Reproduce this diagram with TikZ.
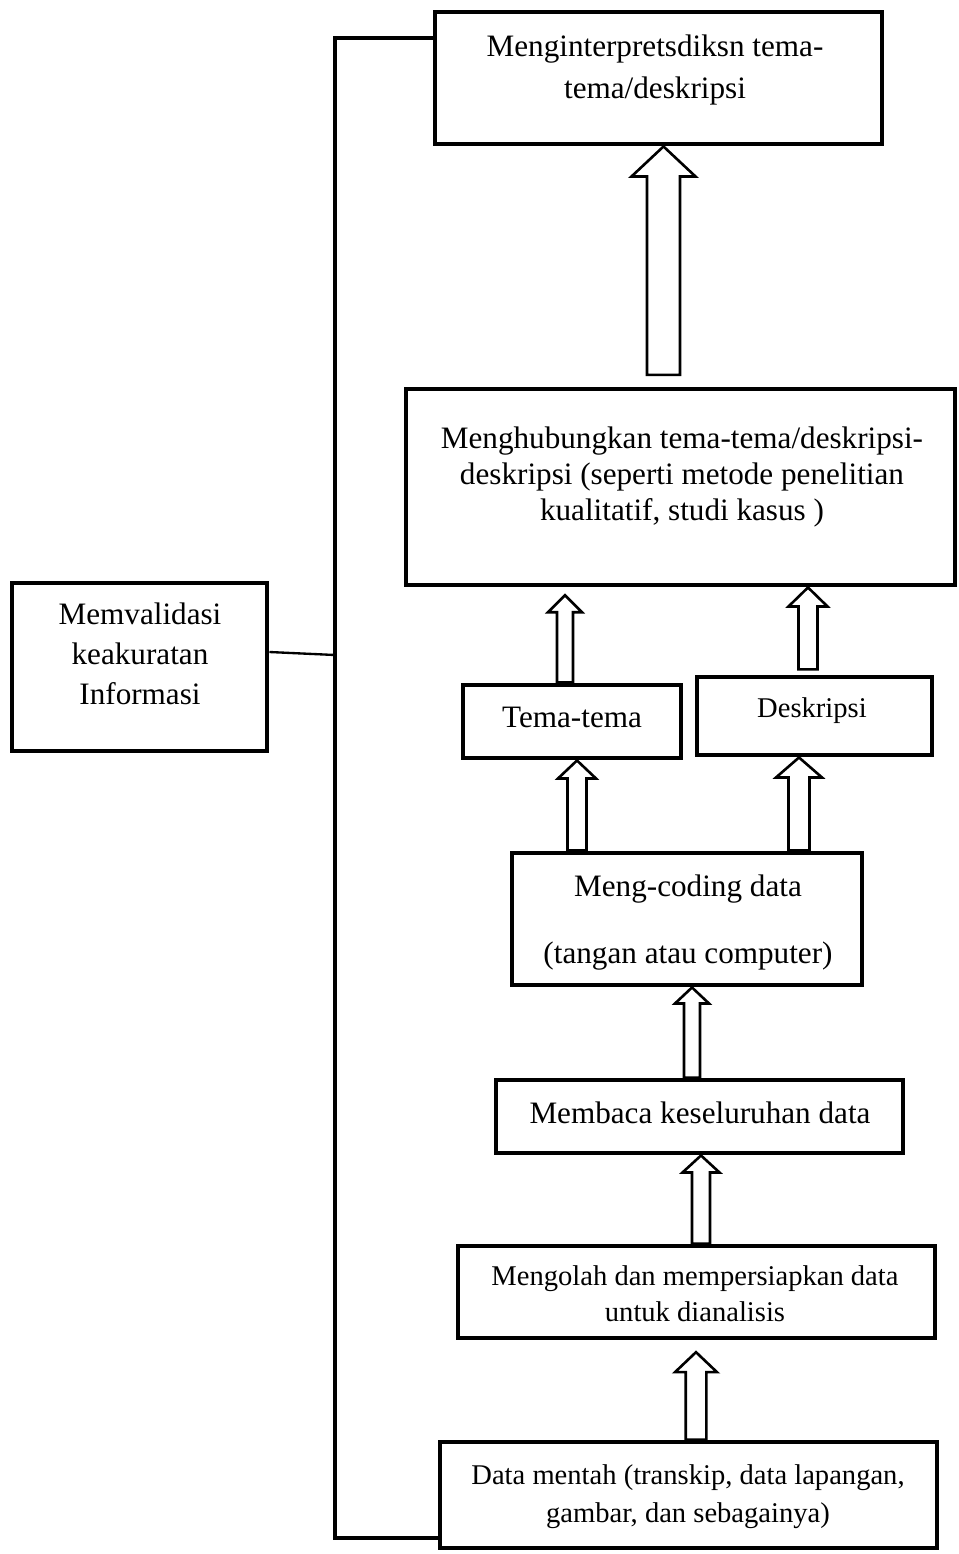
\documentclass[tikz,border=0pt]{standalone}
\usepackage{fontspec}
\setmainfont{Liberation Serif}
\usetikzlibrary{fit,calc}

\newcommand{\pxu}{0.385pt}
% hollow block arrow: x, base, tip, shaft half width, head half width, head length
\newcommand{\blkup}[6]{%
    \draw[blk] let \p1=#2, \p2=#3, \p3=(#1,0) in
        (\x3-#4*\pxu,\y1) -- (\x3-#4*\pxu,\y2-#6*\pxu) -- (\x3-#5*\pxu,\y2-#6*\pxu) -- (\x3,\y2)
        -- (\x3+#5*\pxu,\y2-#6*\pxu) -- (\x3+#4*\pxu,\y2-#6*\pxu) -- (\x3+#4*\pxu,\y1) -- cycle;
}

\begin{document}
\begin{tikzpicture}[x=0.385pt, y=-0.385pt,
        box/.style={draw, black, line width=1.9pt, inner sep=0pt},
        txt/.style={align=center, inner sep=0pt, anchor=north, font=\fontsize{12}{#1}\selectfont},
        smalltxt/.style={align=center, inner sep=0pt, anchor=north, font=\fontsize{11}{#1}\selectfont},
        blk/.style={draw, black, line width=1pt, fill=white, line join=miter},
        link/.style={draw, black, line width=1.5pt},
        thinlink/.style={draw, black, line width=0.9pt}]
        \useasboundingbox (0,0) rectangle (959,1554);

        % boxes
        \node[box, fit={(435,12) (882,144)}] (interp) {};
        \node[box, fit={(406,389) (955,585)}] (relate) {};
        \node[box, fit={(12,583) (267,751)}] (validasi) {};
        \node[box, fit={(463,685) (681,758)}] (tema) {};
        \node[box, fit={(697,677) (932,755)}] (deskripsi) {};
        \node[box, fit={(512,853) (862,985)}] (coding) {};
        \node[box, fit={(496,1080) (903,1153)}] (membaca) {};
        \node[box, fit={(458,1246) (935,1338)}] (mengolah) {};
        \node[box, fit={(440,1442) (937,1548)}] (mentah) {};

        % texts
        \node[txt=16.2pt] (interptxt) at (655,34) {Menginterpretsdiksn tema-\\tema/deskripsi};
        \node[txt=14pt] (relatetxt) at (682,426) {Menghubungkan tema-tema/deskripsi-\\deskripsi (seperti metode penelitian\\kualitatif, studi kasus )};
        \node[txt=15.4pt] (validasitxt) at (140,602) {Memvalidasi\\keakuratan\\Informasi};
        \node[txt=14pt] (tematxt) at (572,707) {Tema-tema};
        \node[smalltxt=14pt] (deskripsitxt) at (812,697) {Deskripsi};
        \node[txt=25.8pt] (codingtxt) at (688,874) {Meng-coding data\\(tangan atau computer)};
        \node[txt=14pt] (membacatxt) at (700,1101) {Membaca keseluruhan data};
        \node[smalltxt=14pt] (mengolahtxt) at (695,1265) {Mengolah dan mempersiapkan data\\untuk dianalisis};
        \node[smalltxt=14.6pt] (mentahtxt) at (688,1464) {Data mentah (transkip, data lapangan,\\gambar, dan sebagainya)};

        % hollow arrows
        \blkup{663.5}{([yshift=4.5pt]relate.north)}{(interp.south)}{16.5}{32}{30}
        \blkup{565}{(tema.north)}{([yshift=-3pt]relate.south)}{8}{17}{17}
        \blkup{808}{([yshift=2pt]deskripsi.north)}{(relate.south)}{9.5}{19.5}{19}
        \blkup{577}{(coding.north)}{(tema.south)}{9.5}{19}{18}
        \blkup{799}{(coding.north)}{(deskripsi.south)}{10.5}{23}{20}
        \blkup{692}{(membaca.north)}{(coding.south)}{8}{17}{16}
        \blkup{701}{(mengolah.north)}{(membaca.south)}{9}{18.5}{17}
        \blkup{696}{(mentah.north)}{([yshift=-4.5pt]mengolah.south)}{10.3}{21}{20}

        % feedback line on the left
        \coordinate (railtop) at (335,38);
        \coordinate (railmid) at (335,655);
        \coordinate (railbot) at (335,1538);
        \draw[link] (interp.west |- railtop) -- (railtop) -- (railbot) -- (mentah.west |- railbot);
        \draw[thinlink] (validasi.east |- 0,652) -- (railmid);
\end{tikzpicture}
\end{document}
